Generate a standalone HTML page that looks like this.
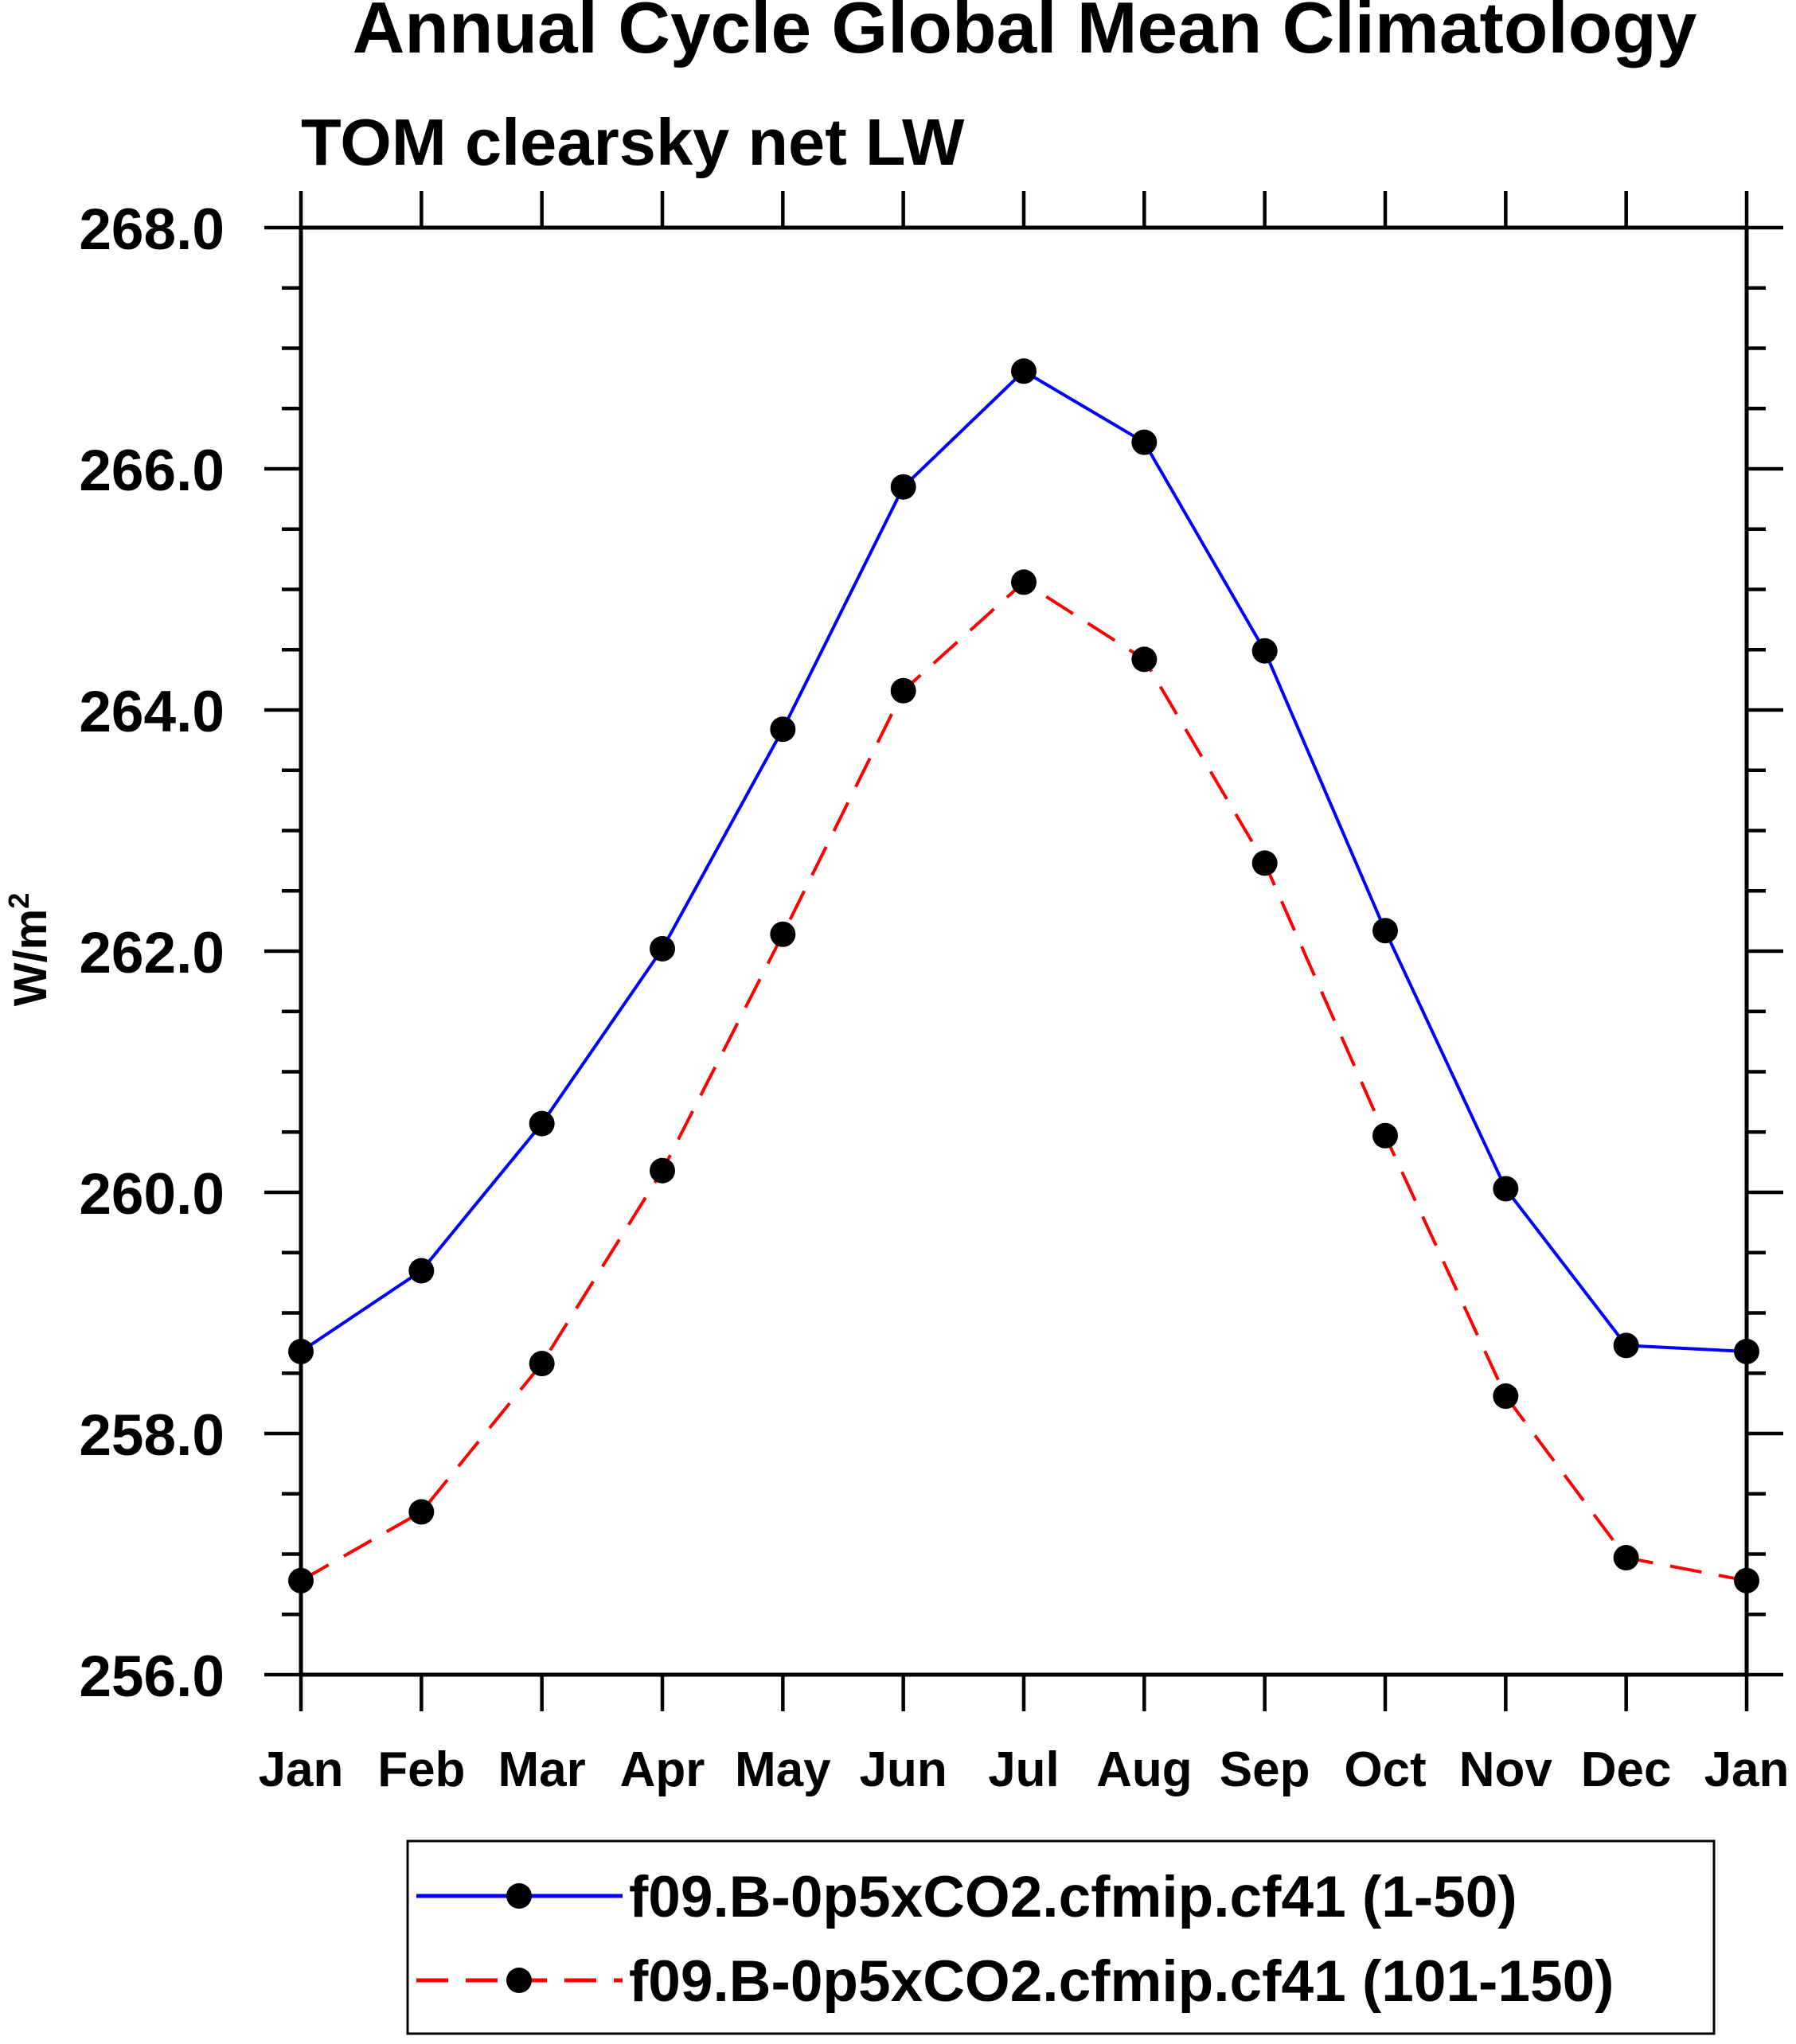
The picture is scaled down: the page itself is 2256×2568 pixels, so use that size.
<!DOCTYPE html>
<html><head><meta charset="utf-8"><style>
html,body{margin:0;padding:0;background:#fff;}
svg{display:block;font-family:"Liberation Sans",Arial,sans-serif;font-weight:bold;}
</style></head><body>
<svg id="chart" width="2256" height="2568" viewBox="0 0 2256 2568" xmlns="http://www.w3.org/2000/svg">
<text x="1287" y="66" font-size="91" text-anchor="middle">Annual Cycle Global Mean Climatology</text>
<text x="378" y="207" font-size="83">TOM clearsky net LW</text>
<text transform="translate(58,1193) rotate(-90)" font-size="58" text-anchor="middle">W/m<tspan dy="-22" font-size="36">2</tspan></text>
<g id="axes"></g>
<g id="series"></g>
<g>
<rect x="512" y="2313" width="1641" height="242" fill="#fff" stroke="#000" stroke-width="3"/>
<g>
<line x1="523" y1="2382" x2="782" y2="2382" stroke="#0000ff" stroke-width="5"/>
<circle cx="652" cy="2382" r="16" fill="#000"/>
<text x="790" y="2408" font-size="73">f09.B-0p5xCO2.cfmip.cf41 (1-50)</text>
</g>
<g>
<line x1="523" y1="2488" x2="782" y2="2488" stroke="#ff0000" stroke-width="5" stroke-dasharray="40,22"/>
<circle cx="652" cy="2488" r="16" fill="#000"/>
<text x="790" y="2514" font-size="73">f09.B-0p5xCO2.cfmip.cf41 (101-150)</text>
</g>
</g>
</svg>
<script>
const months = ["Jan","Feb","Mar","Apr","May","Jun","Jul","Aug","Sep","Oct","Nov","Dec","Jan"];
const yTicks = [256,258,260,262,264,266,268];
const blueValues = [258.68,259.35,260.57,262.02,263.84,265.85,266.81,266.22,264.49,262.17,260.03,258.73,258.68];
const redValues = [256.78,257.35,258.58,260.18,262.14,264.16,265.06,264.42,262.73,260.47,258.31,256.97,256.78];

const NS="http://www.w3.org/2000/svg";
const L=378,R=2194,T=286,B=2104,YMIN=256,YMAX=268;
const xs=i=>L+(R-L)*i/(months.length-1);
const ys=v=>B-(v-YMIN)/(YMAX-YMIN)*(B-T);
function mk(tag,attrs,parent){const e=document.createElementNS(NS,tag);for(const k in attrs)e.setAttribute(k,attrs[k]);parent.appendChild(e);return e;}
const axes=document.getElementById('axes');
const frame=mk('rect',{x:L,y:T,width:R-L,height:B-T,fill:'none',stroke:'#000','stroke-width':5},axes);


for(let v=YMIN;v<=YMAX+1e-9;v+=0.5){
  const y=ys(v);const major=Math.abs(v-Math.round(v/2)*2)<1e-9;const len=major?46:24;
  const t1=mk('line',{x1:L-len,y1:y,x2:L,y2:y,stroke:'#000','stroke-width':4.5},axes);
  
  
  const t2=mk('line',{x1:R,y1:y,x2:R+len,y2:y,stroke:'#000','stroke-width':4.5},axes);
  
  
}
yTicks.forEach(v=>{
  const t=mk('text',{x:282,y:ys(v)+27,'font-size':73,'text-anchor':'end'},axes);
  t.textContent=v.toFixed(1);
  
  
});
months.forEach((m,i)=>{
  const x=xs(i);
  const a=mk('line',{x1:x,y1:T-46,x2:x,y2:T,stroke:'#000','stroke-width':4.5},axes);
  
  
  const b=mk('line',{x1:x,y1:B,x2:x,y2:B+46,stroke:'#000','stroke-width':4.5},axes);
  
  
  const t=mk('text',{x:x,y:2244,'font-size':62,'text-anchor':'middle'},axes);
  t.textContent=m;
  
  
});
const ser=document.getElementById('series');
function draw(vals,color,dash,name){
  const pts=vals.map((v,i)=>xs(i)+','+ys(v)).join(' ');
  const pl=mk('polyline',{points:pts,fill:'none',stroke:color,'stroke-width':4,'stroke-dasharray':dash},ser);
  
  
  vals.forEach((v,i)=>{
    const c=mk('circle',{cx:xs(i),cy:ys(v),r:16,fill:'#000'},ser);
    
    
  });
}
draw(blueValues,'#0000ff','none','blue-series');
draw(redValues,'#ff0000','40,22','red-series');
</script>
</body></html>
